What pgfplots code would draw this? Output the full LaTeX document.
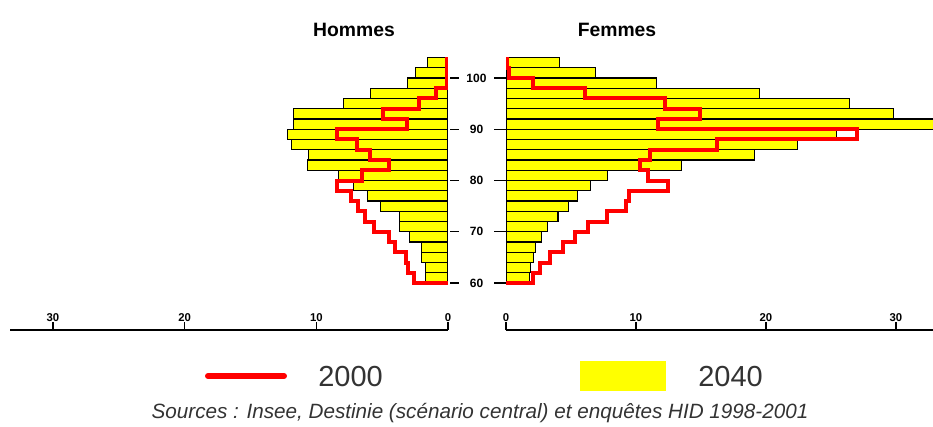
\documentclass[border=0pt]{standalone}
\usepackage{fontspec}
\setmainfont{Liberation Sans}
\usepackage{pgfplots}
\pgfplotsset{compat=1.18}
\definecolor{yel}{RGB}{255,255,0}
\definecolor{redd}{RGB}{255,0,0}
\begin{document}
\begin{tikzpicture}
\useasboundingbox (0,0) rectangle (699.75pt,-319.5pt);
\pgfplotsset{pyr/.style={
  scale only axis, height=210.15pt, ymin=50.83, ymax=105.5, xmin=0,
  axis y line=none, axis x line*=bottom,
  x axis line style={-, line width=0.9pt, black},
  xtick={0,10,20,30}, tick align=inside, major tick length=6pt,
  xtick style={line width=0.9pt, black},
  /pgf/number format/assume math mode=true,
  xticklabel={\fontsize{8.5}{9}\selectfont\bfseries\pgfmathprintnumber{\tick}},
  every x tick label/.append style={anchor=south, yshift=5.5pt, inner sep=0.5pt},
  ytick=\empty,
}}
% Hommes
\begin{axis}[pyr, at={(7.5pt,-247.5pt)}, anchor=south west, width=328.5pt, xmax=33.26, x dir=reverse]
\addplot[xbar interval, fill=yel, draw=black, line width=0.8pt] coordinates {
(1.7,60) (1.7,62) (2.0,64) (2.0,66) (2.9,68) (3.7,70) (3.7,72) (5.1,74) (6.1,76) (7.2,78)
(8.3,80) (10.7,82) (10.6,84) (11.9,86) (12.2,88) (11.7,90) (11.7,92) (7.9,94) (5.9,96)
(3.05,98) (2.44,100) (1.53,102) (1.53,104)};
\addplot[redd, line width=3pt] coordinates {
(0,60) (2.6,60) (2.6,62) (3.0,62) (3.0,64) (3.2,64) (3.2,66) (4.0,66) (4.0,68) (4.5,68)
(4.5,70) (5.6,70) (5.6,72) (6.3,72) (6.3,74) (6.8,74) (6.8,76) (7.4,76) (7.4,78) (8.4,78)
(8.4,80) (6.5,80) (6.5,82) (4.5,82) (4.5,84) (5.9,84) (5.9,86) (6.9,86) (6.9,88) (8.4,88)
(8.4,90) (3.1,90) (3.1,92) (4.9,92) (4.9,94) (2.2,94) (2.2,96) (0.9,96) (0.9,98) (0.1,98)
(0.1,104)};
\end{axis}
% Femmes
\begin{axis}[pyr, at={(379.5pt,-247.5pt)}, anchor=south west, width=320.25pt, xmax=32.85]
\addplot[xbar interval, fill=yel, draw=black, line width=0.8pt] coordinates {
(1.8,60) (1.9,62) (2.1,64) (2.3,66) (2.7,68) (3.2,70) (4.0,72) (4.8,74) (5.5,76) (6.5,78)
(7.8,80) (13.5,82) (19.1,84) (22.4,86) (25.4,88) (35,90) (29.8,92) (26.4,94) (19.5,96)
(11.6,98) (6.85,100) (4.15,102) (4.15,104)};
\addplot[redd, line width=3pt] coordinates {
(0,60) (2.1,60) (2.1,62) (2.6,62) (2.6,64) (3.4,64) (3.4,66) (4.4,66) (4.4,68) (5.3,68)
(5.3,70) (6.3,70) (6.3,72) (7.8,72) (7.8,74) (9.2,74) (9.2,76) (9.5,76) (9.5,78) (12.5,78)
(12.5,80) (10.9,80) (10.9,82) (10.3,82) (10.3,84) (11.1,84) (11.1,86) (16.2,86) (16.2,88)
(27.0,88) (27.0,90) (11.7,90) (11.7,92) (14.9,92) (14.9,94) (12.2,94) (12.2,96) (6.1,96)
(6.1,98) (2.1,98) (2.1,100) (0.2,100) (0.2,102) (0.1,102) (0.1,104)};
\end{axis}
\begin{scope}[x=0.75pt, y=-0.75pt]
  \node[font=\fontsize{14.5}{16}\selectfont\bfseries] at (354,30) {Hommes};
  \node[font=\fontsize{14.5}{16}\selectfont\bfseries] at (617,30) {Femmes};
  \foreach \yy/\lab in {78/100, 129.25/90, 180.5/80, 231.75/70, 283/60} {
    \draw[line width=0.9pt] (450,\yy) -- (459,\yy);
    \draw[line width=0.9pt] (494,\yy) -- (506,\yy);
    \node[font=\fontsize{9}{10}\selectfont\bfseries, inner sep=0pt] at (476.5,\yy) {\lab};
  }
  \draw[redd, line width=4.5pt, line cap=round] (208,376) -- (284,376);
  \node[anchor=west, inner sep=0pt, text=black!80, font=\fontsize{21.75}{24}\selectfont] at (318,377) {2000};
  \fill[yel] (580,361) rectangle (666,391);
  \node[anchor=west, inner sep=0pt, text=black!80, font=\fontsize{21.75}{24}\selectfont] at (698,377) {2040};
  \node[text=black!80, font=\fontsize{15.5}{17}\selectfont\itshape] at (480,413) {Sources : Insee, Destinie (scénario central) et enquêtes HID 1998-2001};
\end{scope}
\end{tikzpicture}
\end{document}
